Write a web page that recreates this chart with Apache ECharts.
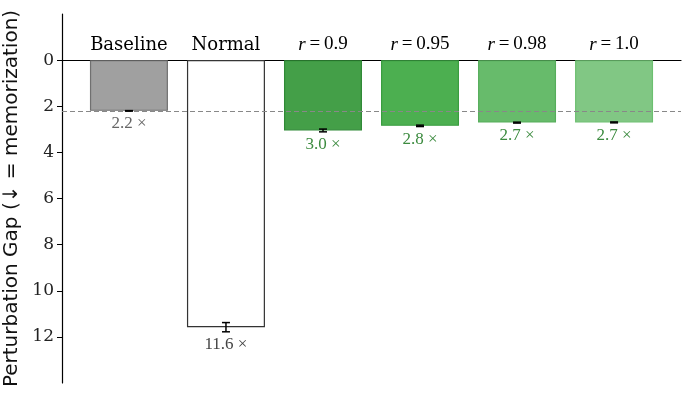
<!DOCTYPE html>
<html>
<head>
    <meta charset="utf-8">
    <title>Perturbation Gap</title>
    <script src="https://cdn.jsdelivr.net/npm/echarts@6/dist/echarts.min.js"></script>
    <style>
        html, body { margin: 0; padding: 0; background: #fff; }
        #chart1 { width: 688px; height: 398px; }
    </style>
</head>
<body>
<div id="chart1"></div>
<script type="text/javascript">
    // 数据
    var categories = ['Baseline', 'Normal', 'r=0.9', 'r=0.95', 'r=0.98', 'r=1.0'];
    var gapValues = [2.2, 11.58, 3.05, 2.85, 2.71, 2.70];
    var gapErrors = [0.01, 0.2, 0.06, 0.03, 0.02, 0.02];
    var valueLabels = ['2.2', '11.6', '3.0', '2.8', '2.7', '2.7'];
    var baselineRef = 2.2;
    var yTicks = [0, 2, 4, 6, 8, 10, 12];

    var fills = ['#a0a0a0', '#ffffff', '#449f48', '#4caf50', '#67bb6b', '#81c784'];
    var borders = ['#707070', '#333333', '#2f8a36', '#3a9d40', '#56ad5b', '#6cbf70'];
    var labelColors = ['#666666', '#444444', '#3c8b3f', '#3c8b3f', '#3c8b3f', '#3c8b3f'];

    var myChart1 = echarts.init(document.getElementById('chart1'));

    var barData = gapValues.map(function (v, i) {
        return {
            value: [i, v],
            itemStyle: { color: fills[i], borderColor: borders[i], borderWidth: 1.2 },
            label: {
                color: labelColors[i],
                distance: 4 + gapErrors[i] * 23,
                formatter: valueLabels[i] + ' \u00d7'
            }
        };
    });

    var errData = gapValues.map(function (v, i) {
        return [i, v - gapErrors[i], v + gapErrors[i]];
    });

    function catLabel(val) {
        var name = categories[Math.round(val)];
        if (name && name.indexOf('r=') === 0) {
            return '{i|r}{m|\u2009=\u2009' + name.slice(2) + '}';
        }
        return '{n|' + name + '}';
    }

    myChart1.setOption({
        animation: false,
        backgroundColor: '#ffffff',
        grid: { left: 62, top: 14, width: 619, height: 369, containLabel: false, outerBoundsMode: 'none' },
        xAxis: {
            type: 'value',
            position: 'top',
            min: -0.69,
            max: 5.69,
            splitLine: { show: false },
            axisLine: { show: true, onZero: true, lineStyle: { color: '#000', width: 1.2 } },
            axisTick: { show: true, inside: true, length: 4, customValues: [0, 1, 2, 3, 4, 5], lineStyle: { color: '#000' } },
            axisLabel: {
                show: true,
                customValues: [0, 1, 2, 3, 4, 5],
                // 标签放在零线上方
                margin: -40,
                formatter: catLabel,
                rich: {
                    n: { fontFamily: 'DejaVu Serif', fontSize: 18, color: '#000' },
                    m: { fontFamily: 'Liberation Serif', fontSize: 19, color: '#000' },
                    i: { fontFamily: 'Liberation Serif', fontStyle: 'italic', fontSize: 19, color: '#000' }
                }
            }
        },
        yAxis: {
            type: 'value',
            inverse: true,
            min: -2,
            max: 14,
            splitLine: { show: false },
            axisLine: { show: true, onZero: false, lineStyle: { color: '#000', width: 1.2 } },
            axisTick: { show: true, length: 5, customValues: yTicks, lineStyle: { color: '#000' } },
            axisLabel: {
                customValues: yTicks,
                margin: 8,
                fontFamily: 'DejaVu Serif',
                fontSize: 17,
                color: '#222'
            },
            name: 'Perturbation Gap (\u2193 = memorization)',
            nameLocation: 'middle',
            nameRotate: 90,
            nameGap: 38,
            nameTextStyle: { fontFamily: 'DejaVu Sans', fontSize: 20, color: '#111' }
        },
        series: [
            {
                type: 'bar',
                barWidth: 78,
                data: barData,
                label: {
                    show: true,
                    position: 'bottom',
                    fontFamily: 'Liberation Serif',
                    fontSize: 17
                },
                markLine: {
                    silent: true,
                    symbol: 'none',
                    label: { show: false },
                    lineStyle: { color: '#888', type: [5, 3], width: 1 },
                    data: [{ yAxis: baselineRef }]
                },
                z: 2
            },
            {
                type: 'custom',
                z: 5,
                data: errData,
                renderItem: function (params, api) {
                    var x = api.value(0);
                    var lo = api.coord([x, api.value(1)]);
                    var hi = api.coord([x, api.value(2)]);
                    var c = 4;
                    var st = { stroke: '#000', lineWidth: 1.5 };
                    return {
                        type: 'group',
                        children: [
                            { type: 'line', shape: { x1: lo[0], y1: lo[1], x2: hi[0], y2: hi[1] }, style: st },
                            { type: 'line', shape: { x1: lo[0] - c, y1: lo[1], x2: lo[0] + c, y2: lo[1] }, style: st },
                            { type: 'line', shape: { x1: hi[0] - c, y1: hi[1], x2: hi[0] + c, y2: hi[1] }, style: st }
                        ]
                    };
                }
            }
        ]
    });
</script>
</body>
</html>
